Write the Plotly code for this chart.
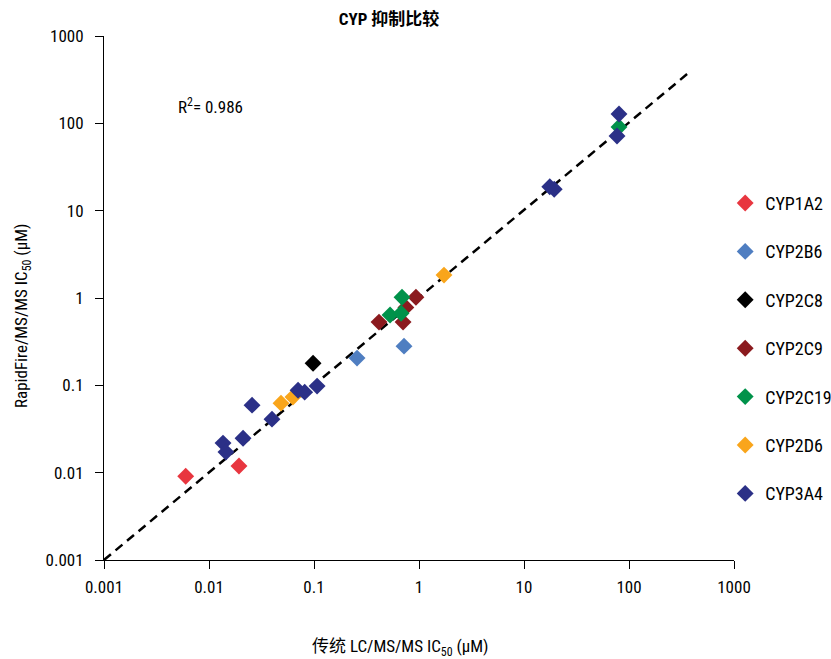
import math
import plotly.graph_objects as go

# Data
series_names = ["CYP1A2", "CYP2B6", "CYP2C8", "CYP2C9", "CYP2C19", "CYP2D6", "CYP3A4"]
series_colors = ["#E8363F", "#4F7EC1", "#000000", "#8B1A1E", "#00924A", "#F9A51B", "#2B3087"]

cyp1a2_x = [0.0060, 0.0193]
cyp1a2_y = [0.0091, 0.0119]
cyp2b6_x = [0.257, 0.72]
cyp2b6_y = [0.205, 0.281]
cyp2c8_x = [0.098]
cyp2c8_y = [0.179]
cyp2c9_x = [0.416, 0.705, 0.935, 0.75]
cyp2c9_y = [0.53, 0.53, 1.02, 0.78]
cyp2c19_x = [0.53, 0.675, 0.689, 80.3]
cyp2c19_y = [0.64, 0.67, 1.02, 90.8]
cyp2d6_x = [0.0485, 0.063, 1.73]
cyp2d6_y = [0.0625, 0.0733, 1.83]
cyp3a4_x = [0.0257, 0.0136, 0.0145, 0.0211, 0.0398, 0.0705, 0.0815, 0.107, 17.6, 19.4, 80.3, 76.9]
cyp3a4_y = [0.0593, 0.0218, 0.0172, 0.0248, 0.041, 0.088, 0.0836, 0.098, 18.8, 17.6, 128, 71.6]

fit_x = [0.001, 390]
fit_y = [0.001, 400]
r2_text = "R<sup>2</sup>= 0.986"
r2_pos = (0.0049, 158)

tick_vals = [0.001, 0.01, 0.1, 1, 10, 100, 1000]
tick_text = ["0.001", "0.01", "0.1", "1", "10", "100", "1000"]

xs = [cyp1a2_x, cyp2b6_x, cyp2c8_x, cyp2c9_x, cyp2c19_x, cyp2d6_x, cyp3a4_x]
ys = [cyp1a2_y, cyp2b6_y, cyp2c8_y, cyp2c9_y, cyp2c19_y, cyp2d6_y, cyp3a4_y]

FONT = "Liberation Sans Narrow, Roboto Condensed, Arial Narrow, Liberation Sans, Noto Sans CJK SC, sans-serif"
W, H = 831, 659
L, R, T, B = 104, 97, 36, 99
PW, PH = W - L - R, H - T - B


def px_to_paper(px, py):
    return (px - L) / PW, (H - B - py) / PH


fig = go.Figure()
fig.add_trace(go.Scatter(x=fit_x, y=fit_y, mode="lines",
                         line=dict(color="black", width=2.5, dash="9px,6px"),
                         showlegend=False, hoverinfo="skip"))
for name, color, x, y in zip(series_names, series_colors, xs, ys):
    fig.add_trace(go.Scatter(x=x, y=y, mode="markers", name=name, legendgroup=name,
                             marker=dict(symbol="diamond", size=13, color=color,
                                         line=dict(width=0))))

fig.update_layout(
    width=W, height=H,
    margin=dict(l=L, r=R, t=T, b=B, autoexpand=False),
    paper_bgcolor="white", plot_bgcolor="white",
    font=dict(family=FONT, size=17, color="black"),
    title=dict(text="<b>CYP 抑制比较</b>", x=389/W, xanchor="center", y=1-19/H, yanchor="middle",
               font=dict(size=17, family=FONT)),
    legend=dict(x=0.986, xanchor="left", y=0.716, yanchor="top",
                font=dict(size=18, family=FONT), tracegroupgap=22),
    showlegend=True,
)
fig.update_xaxes(type="log", range=[-3, 3], tickvals=tick_vals, ticktext=tick_text,
                 showline=True, linecolor="black", linewidth=1, mirror=False, automargin=False,
                 ticks="outside", ticklen=8, tickcolor="black", showgrid=False, zeroline=False,
                 tickfont=dict(size=17), ticklabelstandoff=4)
fig.update_yaxes(type="log", range=[-3, 3], tickvals=tick_vals, ticktext=tick_text,
                 showline=True, linecolor="black", linewidth=1, mirror=False, automargin=False,
                 ticks="outside", ticklen=8, tickcolor="black", showgrid=False, zeroline=False,
                 tickfont=dict(size=17), ticklabelstandoff=8)
# annotations on log axes take log10 coordinates
fig.add_annotation(x=math.log10(r2_pos[0]), y=math.log10(r2_pos[1]), xref="x", yref="y",
                   text=r2_text, showarrow=False,
                   xanchor="left", yanchor="middle", font=dict(size=17, family=FONT))
xt_x, xt_y = px_to_paper(400, 647)
fig.add_annotation(x=xt_x, y=xt_y, xref="paper", yref="paper", yanchor="middle",
                   xanchor="center", text="传统 LC/MS/MS IC<sub>50</sub> (µM)", showarrow=False,
                   font=dict(size=17, family=FONT))
yt_x, yt_y = px_to_paper(22, 316)
fig.add_annotation(x=yt_x, y=yt_y, xref="paper", yref="paper",
                   text="RapidFire/MS/MS IC<sub>50</sub> (µM)", showarrow=False, textangle=-90,
                   xanchor="center", yanchor="middle", font=dict(size=17, family=FONT))

fig.write_html("out.html", config={"displayModeBar": False},
               post_script="document.body.style.margin='0';document.body.style.padding='0';")
